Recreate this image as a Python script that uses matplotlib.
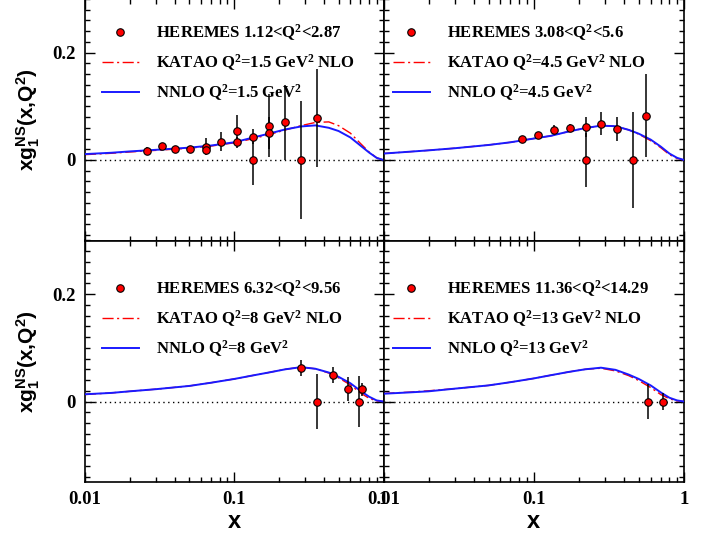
import numpy as np
import matplotlib
matplotlib.use('Agg')
import matplotlib.pyplot as plt
from matplotlib.ticker import LogLocator, NullFormatter, MultipleLocator

plt.rcParams['mathtext.fontset'] = 'custom'
plt.rcParams['mathtext.rm'] = 'Liberation Serif:bold'
plt.rcParams['mathtext.bf'] = 'Liberation Serif:bold'
plt.rcParams['mathtext.it'] = 'Liberation Serif:bold'
plt.rcParams['mathtext.sf'] = 'Liberation Sans:bold'
plt.rcParams['mathtext.default'] = 'rm'

# theory curves
x_curve = [0.01, 0.015, 0.02, 0.03, 0.05, 0.07, 0.1, 0.13, 0.17, 0.22,
           0.28, 0.35, 0.43, 0.5, 0.6, 0.7, 0.8, 0.9, 1.0]

nnlo_1 = [0.011, 0.0135, 0.016, 0.019, 0.023, 0.027, 0.033, 0.041, 0.049, 0.057,
          0.0625, 0.0645, 0.060, 0.054, 0.042, 0.027, 0.014, 0.004, 0.0]
katao_1 = [0.010, 0.0125, 0.015, 0.018, 0.022, 0.026, 0.032, 0.039, 0.047, 0.056,
           0.064, 0.070, 0.071, 0.064, 0.050, 0.031, 0.015, 0.004, 0.0]

nnlo_2 = [0.012, 0.0155, 0.018, 0.022, 0.028, 0.033, 0.040, 0.045, 0.053, 0.0595,
          0.064, 0.063, 0.056, 0.049, 0.038, 0.025, 0.012, 0.004, 0.0]
katao_2 = [0.012, 0.0155, 0.018, 0.022, 0.028, 0.033, 0.040, 0.045, 0.053, 0.0595,
           0.064, 0.063, 0.056, 0.048, 0.036, 0.023, 0.010, 0.003, 0.0]

nnlo_3 = [0.0135, 0.016, 0.019, 0.023, 0.029, 0.035, 0.042, 0.048, 0.054, 0.060,
          0.064, 0.061, 0.054, 0.046, 0.034, 0.020, 0.009, 0.002, 0.0]
katao_3 = [0.013, 0.016, 0.019, 0.023, 0.029, 0.035, 0.042, 0.048, 0.054, 0.060,
           0.064, 0.061, 0.053, 0.044, 0.031, 0.016, 0.006, 0.001, 0.0]

nnlo_4 = [0.0145, 0.017, 0.019, 0.024, 0.030, 0.036, 0.043, 0.049, 0.055, 0.060,
          0.063, 0.059, 0.050, 0.042, 0.030, 0.017, 0.007, 0.002, 0.0]
katao_4 = [0.015, 0.0175, 0.020, 0.024, 0.030, 0.036, 0.043, 0.049, 0.055, 0.060,
           0.062, 0.057, 0.048, 0.039, 0.026, 0.013, 0.005, 0.001, 0.0]

# HERMES points
x_d1 = [0.0262, 0.0326, 0.040, 0.0504, 0.0645, 0.0648, 0.082, 0.1046, 0.1046,
        0.134, 0.134, 0.171, 0.171, 0.219, 0.279, 0.356]
y_d1 = [0.0174, 0.0255, 0.020, 0.0205, 0.0248, 0.0186, 0.034, 0.0546, 0.033,
        0.0434, 0.0, 0.064, 0.050, 0.070, 0.0, 0.078]
e_d1 = [0.007, 0.004, 0.004, 0.004, 0.0155, 0.008, 0.018, 0.029, 0.010,
        0.014, 0.047, 0.059, 0.030, 0.070, 0.110, 0.091]

x_d2 = [0.0841, 0.107, 0.136, 0.174, 0.222, 0.222, 0.281, 0.359, 0.456, 0.56]
y_d2 = [0.0385, 0.046, 0.0565, 0.060, 0.061, 0.0, 0.068, 0.058, 0.0, 0.0826]
e_d2 = [0.007, 0.007, 0.008, 0.008, 0.019, 0.051, 0.022, 0.022, 0.089, 0.077]

x_d3 = [0.281, 0.358, 0.458, 0.58, 0.69, 0.72]
y_d3 = [0.063, 0.0, 0.049, 0.0228, 0.0, 0.0228]
e_d3 = [0.015, 0.051, 0.015, 0.022, 0.048, 0.012]

x_d4 = [0.58, 0.73]
y_d4 = [0.0, 0.0]
e_d4 = [0.032, 0.015]

labels_1 = ['HEREMES 1.12<Q$^2$<2.87', 'KATAO Q$^2$=1.5 GeV$^2$ NLO', 'NNLO Q$^2$=1.5 GeV$^2$']
labels_2 = ['HEREMES 3.08<Q$^2$<5.6', 'KATAO Q$^2$=4.5 GeV$^2$ NLO', 'NNLO Q$^2$=4.5 GeV$^2$']
labels_3 = ['HEREMES 6.32<Q$^2$<9.56', 'KATAO Q$^2$=8 GeV$^2$ NLO', 'NNLO Q$^2$=8 GeV$^2$']
labels_4 = ['HEREMES 11.36<Q$^2$<14.29', 'KATAO Q$^2$=13 GeV$^2$ NLO', 'NNLO Q$^2$=13 GeV$^2$']

x_ticks = [0.01, 0.1, 1]
x_ticklabels = ['0.01', '0.1', '1']
y_ticks = [0, 0.2]
y_ticklabels = ['0', '0.2']

serif_bold = {'family': 'Liberation Serif', 'weight': 'bold'}

fig = plt.figure(figsize=(7.21, 5.33), dpi=100)
W, H = 721.0, 533.0
h_ax = 241.5 / H
boxes = [
    [85 / W, (533 - 240.5) / H, 298.5 / W, h_ax],
    [383.5 / W, (533 - 240.5) / H, 300.5 / W, h_ax],
    [85 / W, (533 - 482) / H, 298.5 / W, h_ax],
    [383.5 / W, (533 - 482) / H, 300.5 / W, h_ax],
]
panels = [
    (x_d1, y_d1, e_d1, katao_1, nnlo_1, labels_1, (0.057, 0.905)),
    (x_d2, y_d2, e_d2, katao_2, nnlo_2, labels_2, (0.032, 0.905)),
    (x_d3, y_d3, e_d3, katao_3, nnlo_3, labels_3, (0.057, 0.845)),
    (x_d4, y_d4, e_d4, katao_4, nnlo_4, labels_4, (0.032, 0.845)),
]

for i, (box, p) in enumerate(zip(boxes, panels)):
    xd, yd, ed, kat, nn, labs, anchor = p
    ax = fig.add_axes(box)
    ax.set_xscale('log')
    ax.set_xlim(0.01, 1)
    ax.set_ylim(-0.15, 0.3)

    ax.axhline(0, color='black', ls=(0, (1, 2.5)), lw=1.0, zorder=1)
    l_kat, = ax.plot(x_curve, kat, color='#ff0000', lw=1.0,
                     dashes=(8, 2.5, 1.5, 2.5), zorder=2)
    l_nn, = ax.plot(x_curve, nn, color='#1a1aff', lw=1.4, zorder=3)
    ax.errorbar(xd, yd, yerr=ed, fmt='none', ecolor='black', elinewidth=1.1,
                capsize=0, zorder=4)
    pts, = ax.plot(xd, yd, 'o', ms=5.4, mfc='#ff0000', mec='black', mew=0.8,
                   ls='none', zorder=5)

    leg = ax.legend([pts, l_kat, l_nn], labs, loc='upper left',
                    bbox_to_anchor=anchor, frameon=False, borderaxespad=0,
                    borderpad=0, handlelength=2.2, handletextpad=1.05,
                    labelspacing=0.56, numpoints=1,
                    prop={'family': 'Liberation Serif', 'weight': 'bold',
                          'size': 12})

    ax.xaxis.set_minor_locator(LogLocator(base=10, subs=np.arange(2, 10)))
    ax.xaxis.set_minor_formatter(NullFormatter())
    ax.set_xticks(x_ticks)
    ax.yaxis.set_major_locator(MultipleLocator(0.2))
    ax.yaxis.set_minor_locator(MultipleLocator(0.02))
    ax.tick_params(which='both', direction='in', top=True, right=True,
                   width=1.0, color='black')
    ax.tick_params(which='major', length=7.5, pad=6.5)
    ax.tick_params(which='minor', length=3.5)
    for s in ax.spines.values():
        s.set_linewidth(1.2)

    if i >= 2:
        ax.set_xticklabels(x_ticklabels, fontdict=serif_bold, fontsize=13.5)
        ax.set_xlabel(r'$\mathsf{x}$', fontsize=17)
        ax.xaxis.set_label_coords(0.5, -0.11)
    else:
        ax.set_xticklabels([])
    if i % 2 == 0:
        ax.set_yticks(y_ticks)
        ax.set_yticklabels(y_ticklabels, fontdict=serif_bold, fontsize=13.5)
        ax.set_ylabel(r'$\mathsf{xg_1^{NS}(x{,}Q^2)}$', fontsize=15)
        ax.yaxis.set_label_coords(-0.145, 0.5)
    else:
        ax.set_yticklabels([])

fig.savefig('out.png', dpi=100)
